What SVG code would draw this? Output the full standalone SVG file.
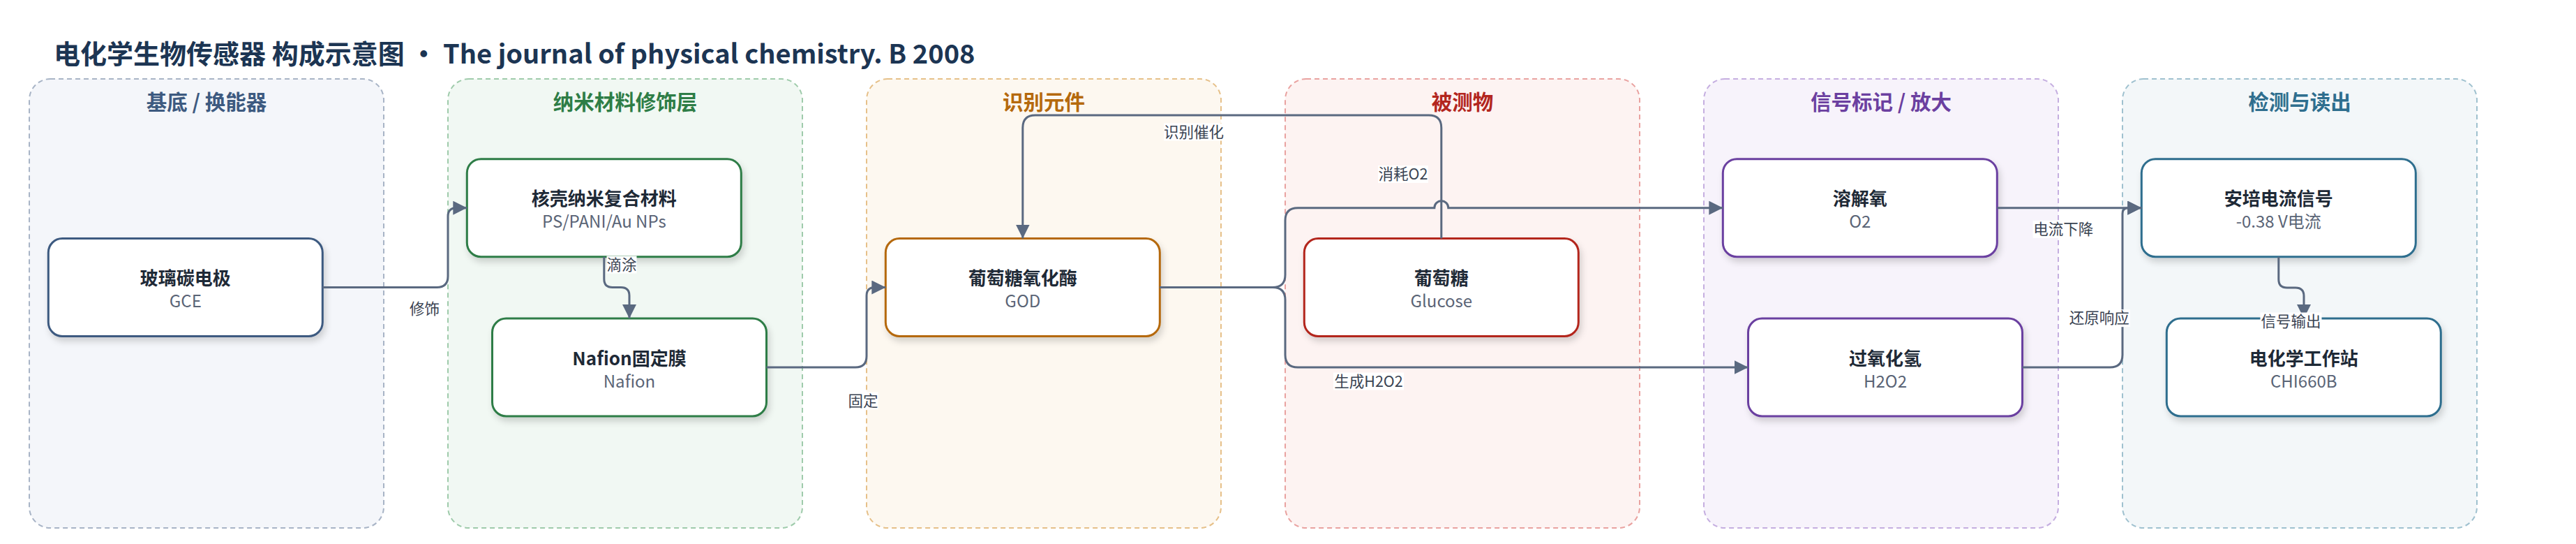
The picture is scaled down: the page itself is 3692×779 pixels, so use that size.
<svg xmlns="http://www.w3.org/2000/svg" width="3692" height="779" viewBox="0 0 3692 779">
<style>
.grp{stroke-width:2;stroke-dasharray:7 5}
.gt{font-family:"Noto Sans CJK SC","Noto Sans",sans-serif;font-size:29.5px;font-weight:700;text-anchor:middle}
.node{fill:#ffffff;stroke-width:3;filter:url(#sh)}
.nt{font-family:"Noto Sans CJK SC","Noto Sans",sans-serif;font-size:26px;font-weight:700;fill:#1e2936;text-anchor:middle}
.ns{font-family:"Noto Sans CJK SC","Noto Sans",sans-serif;font-size:24px;fill:#5a6476;text-anchor:middle}
.edge{fill:none;stroke:#5a6980;stroke-width:3}
.arr{marker-end:url(#ah)}
.lb{font-family:"Noto Sans CJK SC","Noto Sans",sans-serif;font-size:21.5px;fill:#3a4352;text-anchor:middle}
.lbg{fill:#ffffff}
</style>
<defs>
<marker id="ah" markerUnits="userSpaceOnUse" markerWidth="20" markerHeight="20" refX="20" refY="10" orient="auto">
<path d="M0,0 L20,10 L0,20 z" fill="#5a6980"/>
</marker>
<filter id="sh" x="-10%" y="-10%" width="125%" height="140%">
<feDropShadow dx="3" dy="6" stdDeviation="5" flood-color="#000" flood-opacity="0.16"/>
</filter>
</defs>
<rect width="3692" height="779" fill="#ffffff"/>
<text x="77" y="91" font-family="'Noto Sans CJK SC','Noto Sans',sans-serif" font-size="38" font-weight="700" fill="#1c3553">电化学生物传感器 构成示意图 • The journal of physical chemistry. B 2008</text>

<g id="cluster-substrate">
<rect class="grp" x="42" y="113" width="508" height="643" rx="30" fill="#f4f6fa" stroke="#a8b4c6"/>
<text class="gt" x="296" y="157" fill="#3d5a80">基底 / 换能器</text>
</g>
<g id="cluster-nano">
<rect class="grp" x="642" y="113" width="508" height="643" rx="30" fill="#f1f8f3" stroke="#9fcbab"/>
<text class="gt" x="896" y="157" fill="#2e7d46">纳米材料修饰层</text>
</g>
<g id="cluster-recog">
<rect class="grp" x="1242" y="113" width="508" height="643" rx="30" fill="#fdf8f0" stroke="#e6c089"/>
<text class="gt" x="1496" y="157" fill="#b5690c">识别元件</text>
</g>
<g id="cluster-analyte">
<rect class="grp" x="1842" y="113" width="508" height="643" rx="30" fill="#fdf3f2" stroke="#e9a2a0"/>
<text class="gt" x="2096" y="157" fill="#b3261e">被测物</text>
</g>
<g id="cluster-signal">
<rect class="grp" x="2442" y="113" width="508" height="643" rx="30" fill="#f7f3fb" stroke="#c5aee0"/>
<text class="gt" x="2696" y="157" fill="#6b3fa0">信号标记 / 放大</text>
</g>
<g id="cluster-readout">
<rect class="grp" x="3042" y="113" width="508" height="643" rx="30" fill="#f3f7f9" stroke="#9fc1cf"/>
<text class="gt" x="3296" y="157" fill="#2e6e8e">检测与读出</text>
</g>

<g id="node-gce">
<rect class="node" x="69.3" y="341.5" width="393" height="140" rx="20" stroke="#3d5a80"/>
<text class="nt" x="265.8" y="408">玻璃碳电极</text>
<text class="ns" x="265.8" y="440">GCE</text>
</g>
<g id="node-composite">
<rect class="node" x="669.3" y="227.7" width="393" height="140" rx="20" stroke="#2e7d46"/>
<text class="nt" x="865.8" y="294.2">核壳纳米复合材料</text>
<text class="ns" x="865.8" y="326.2">PS/PANI/Au NPs</text>
</g>
<g id="node-nafion">
<rect class="node" x="705.5" y="456" width="393" height="140" rx="20" stroke="#2e7d46"/>
<text class="nt" x="902" y="522.5">Nafion固定膜</text>
<text class="ns" x="902" y="554.5">Nafion</text>
</g>
<g id="node-god">
<rect class="node" x="1269.3" y="341.5" width="393" height="140" rx="20" stroke="#b5690c"/>
<text class="nt" x="1465.8" y="408">葡萄糖氧化酶</text>
<text class="ns" x="1465.8" y="440">GOD</text>
</g>
<g id="node-glucose">
<rect class="node" x="1869.3" y="341.5" width="393" height="140" rx="20" stroke="#b3261e"/>
<text class="nt" x="2065.8" y="408">葡萄糖</text>
<text class="ns" x="2065.8" y="440">Glucose</text>
</g>
<g id="node-o2">
<rect class="node" x="2469.3" y="227.7" width="393" height="140" rx="20" stroke="#6b3fa0"/>
<text class="nt" x="2665.8" y="294.2">溶解氧</text>
<text class="ns" x="2665.8" y="326.2">O2</text>
</g>
<g id="node-h2o2">
<rect class="node" x="2505.5" y="456" width="393" height="140" rx="20" stroke="#6b3fa0"/>
<text class="nt" x="2702" y="522.5">过氧化氢</text>
<text class="ns" x="2702" y="554.5">H2O2</text>
</g>
<g id="node-current">
<rect class="node" x="3069.3" y="227.7" width="393" height="140" rx="20" stroke="#2e6e8e"/>
<text class="nt" x="3265.8" y="294.2">安培电流信号</text>
<text class="ns" x="3265.8" y="326.2">-0.38 V电流</text>
</g>
<g id="node-chi">
<rect class="node" x="3105.3" y="456" width="393" height="140" rx="20" stroke="#2e6e8e"/>
<text class="nt" x="3301.8" y="522.5">电化学工作站</text>
<text class="ns" x="3301.8" y="554.5">CHI660B</text>
</g>

<g id="connectors">
<path class="edge arr" d="M462.3,411.5 H626 Q642,411.5 642,395.5 V309.7 Q642,297.7 654,297.7 H669.3"/>
<path class="edge arr" d="M865.8,367.7 V399.5 Q865.8,411.5 877.8,411.5 H890 Q902,411.5 902,423.5 V456"/>
<path class="edge arr" d="M1098.5,526 H1226 Q1242,526 1242,510 V423.5 Q1242,411.5 1254,411.5 H1269.3"/>
<path class="edge arr" d="M2065.8,341.5 V183 Q2065.8,165 2047.8,165 H1483.8 Q1465.8,165 1465.8,183 V341.5"/>
<path class="edge arr" d="M1662.3,411.5 H1824 Q1842,411.5 1842,393.5 V315.7 Q1842,297.7 1860,297.7 H2055.8 A10,10 0 0 1 2075.8,297.7 H2469.3"/>
<path class="edge arr" d="M1662.3,411.5 H1824 Q1842,411.5 1842,429.5 V508 Q1842,526 1860,526 H2505.5"/>
<path class="edge arr" d="M2862.3,297.7 H3069.3"/>
<path class="edge arr" d="M2898.5,526 H3024 Q3042,526 3042,508 V306 Q3042,297.7 3050,297.7 H3069.3"/>
<path class="edge arr" d="M3265.8,367.7 V400 Q3265.8,412 3277.8,412 H3290 Q3302,412 3302,424 V456"/>

<rect class="lbg" x="587.6" y="429.5" width="43" height="25"/>
<text class="lb" x="608.6" y="449.5">修饰</text>
<rect class="lbg" x="869.5" y="366.5" width="43" height="25"/>
<text class="lb" x="891" y="386.5">滴涂</text>
<rect class="lbg" x="1215.5" y="561.5" width="43" height="25"/>
<text class="lb" x="1237" y="581.5">固定</text>
<rect class="lbg" x="1668" y="176.5" width="86" height="25"/>
<text class="lb" x="1711" y="196.5">识别催化</text>
<rect class="lbg" x="1975" y="237" width="72" height="25"/>
<text class="lb" x="2011" y="257">消耗O2</text>
<rect class="lbg" x="1911" y="533.5" width="101" height="25"/>
<text class="lb" x="1961.5" y="553.5">生成H2O2</text>
<rect class="lbg" x="2913.5" y="315.8" width="88" height="25"/>
<text class="lb" x="2957.3" y="335.8">电流下降</text>
<rect class="lbg" x="2964.5" y="443.2" width="88.5" height="25"/>
<text class="lb" x="3008.8" y="463.2">还原响应</text>
<rect class="lbg" x="3239.5" y="447.5" width="88" height="25"/>
<text class="lb" x="3283.6" y="467.5">信号输出</text>
</g>
</svg>
